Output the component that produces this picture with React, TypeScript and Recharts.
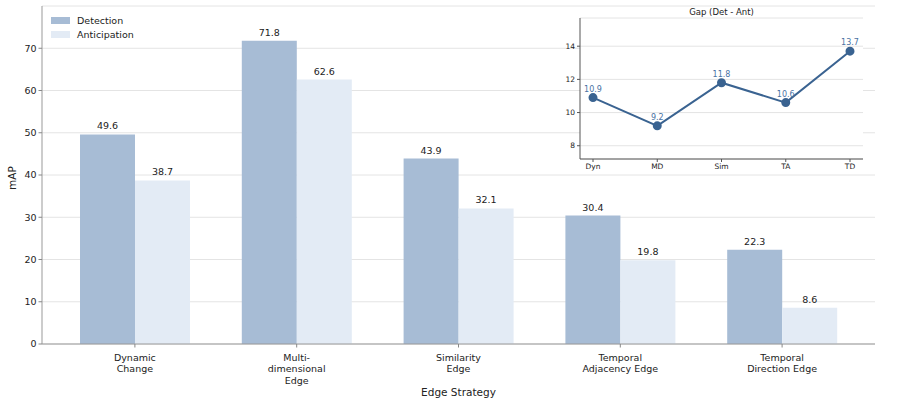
import React from 'react';
import { BarChart, Bar, XAxis, YAxis, CartesianGrid, LabelList, LineChart, Line } from 'recharts';

const categories = ['Dynamic\nChange', 'Multi-\ndimensional\nEdge', 'Similarity\nEdge', 'Temporal\nAdjacency Edge', 'Temporal\nDirection Edge'];
const detection = [49.6, 71.8, 43.9, 30.4, 22.3];
const anticipation = [38.7, 62.6, 32.1, 19.8, 8.6];
const gapLabels = ['Dyn', 'MD', 'Sim', 'TA', 'TD'];
const gapValues = [10.9, 9.2, 11.8, 10.6, 13.7];
const mainTicks = [0, 10, 20, 30, 40, 50, 60, 70];
const insetTicks = [8, 10, 12, 14];
const seriesNames = ['Detection', 'Anticipation'];

const FONT = '"DejaVu Sans", sans-serif';
const DET = '#a7bcd5';
const ANT = '#e3ebf5';
const LINE = '#3a6391';
const seriesColors = [DET, ANT];

const barData = categories.map((c, i) => ({ name: c, det: detection[i], ant: anticipation[i] }));
const lineData = gapLabels.map((c, i) => ({ name: c, gap: gapValues[i] }));

const MainTick = (props: any) => {
  const { x, y, payload } = props;
  const lines = String(payload.value).split('\n');
  return (
    <text x={x} y={y + 11} textAnchor="middle" fontSize={9.5} fill="#222" fontFamily={FONT}>
      {lines.map((l, i) => (
        <tspan key={i} x={x} dy={i === 0 ? 0 : 11.5}>{l}</tspan>
      ))}
    </text>
  );
};

const YLabel = (props: any) => {
  const { viewBox } = props;
  const cx = 12;
  const cy = viewBox.y + viewBox.height / 2 + 3;
  return (
    <text x={cx} y={cy} transform={`rotate(-90 ${cx} ${cy})`} textAnchor="middle" dominantBaseline="central" fontSize={10.5} fill="#222" fontFamily={FONT}>
      mAP
    </text>
  );
};

export default function App() {
  return (
    <div style={{ position: 'relative', width: 897, height: 404, background: '#fff', fontFamily: FONT }}>
      <style>{'body{margin:0}'}</style>
      <BarChart width={897} height={404} data={barData} margin={{ top: 6, right: 22, left: 12, bottom: 0 }} barGap={0} barSize={55}>
        <CartesianGrid vertical={false} stroke="#dddddd" strokeWidth={0.8} />
        <XAxis
          dataKey="name"
          interval={0}
          padding={{ left: 12, right: 12 }}
          height={60}
          tick={<MainTick />}
          tickLine={{ stroke: '#888' }}
          tickSize={3.5}
          axisLine={{ stroke: '#999' }}
          label={{ value: 'Edge Strategy', position: 'insideBottom', offset: 8, fontSize: 10.5, fill: '#222', fontFamily: FONT }}
        />
        <YAxis
          width={30}
          domain={[0, 80]}
          ticks={mainTicks}
          tick={{ fontSize: 9.5, fill: '#222', fontFamily: FONT }}
          tickLine={{ stroke: '#888' }}
          tickSize={3.5}
          axisLine={{ stroke: '#999' }}
          label={<YLabel />}
        />
        <Bar dataKey="det" name="Detection" fill={DET} isAnimationActive={false}>
          <LabelList dataKey="det" position="top" offset={5} style={{ fontSize: 9.5, fill: '#222', fontFamily: FONT }} />
        </Bar>
        <Bar dataKey="ant" name="Anticipation" fill={ANT} isAnimationActive={false}>
          <LabelList dataKey="ant" position="top" offset={5} style={{ fontSize: 9.5, fill: '#222', fontFamily: FONT }} />
        </Bar>
      </BarChart>

      <div style={{ position: 'absolute', left: 51, top: 13, fontFamily: FONT, fontSize: 9.5, color: '#222' }}>
        {seriesNames.map((n, i) => (
          <div key={n} style={{ display: 'flex', alignItems: 'center', height: 14 }}>
            <div style={{ width: 19, height: 7, background: seriesColors[i], marginRight: 7 }} />
            <span>{n}</span>
          </div>
        ))}
      </div>

      <div style={{ position: 'absolute', left: 580, top: 7, width: 283, textAlign: 'center', fontSize: 8.5, color: '#222', fontFamily: FONT }}>
        Gap (Det - Ant)
      </div>
      <div style={{ position: 'absolute', left: 560, top: 0 }}>
        <LineChart width={320} height={180} data={lineData} margin={{ top: 18, right: 17, left: 0, bottom: 0 }}>
          <CartesianGrid vertical={false} stroke="#dddddd" strokeWidth={0.8} fill="#ffffff" />
          <XAxis
            dataKey="name"
            interval={0}
            padding={{ left: 13, right: 13 }}
            height={21}
            tick={{ fontSize: 7.5, fill: '#222', fontFamily: FONT }}
            tickLine={{ stroke: '#555' }}
            tickSize={3}
            tickMargin={2}
            axisLine={{ stroke: '#555' }}
          />
          <YAxis
            width={20}
            domain={[7.2, 15.7]}
            ticks={insetTicks}
            tick={{ fontSize: 7.5, fill: '#222', fontFamily: FONT }}
            tickLine={{ stroke: '#555' }}
            tickSize={3}
            tickMargin={2}
            axisLine={{ stroke: '#555' }}
          />
          <Line
            type="linear"
            dataKey="gap"
            stroke={LINE}
            strokeWidth={2}
            dot={{ r: 3.5, fill: LINE, stroke: LINE }}
            isAnimationActive={false}
          >
            <LabelList dataKey="gap" position="top" offset={6} style={{ fontSize: 8, fill: '#4a72a3', fontFamily: FONT }} />
          </Line>
        </LineChart>
      </div>
    </div>
  );
}
